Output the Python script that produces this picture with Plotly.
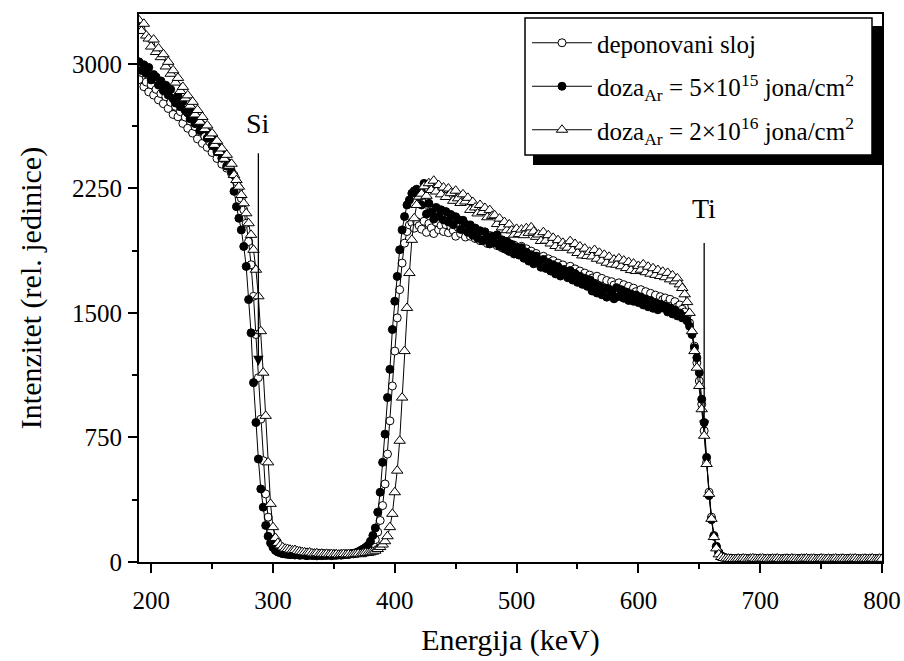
import plotly.graph_objects as go

# ---------------- data ----------------
# channel energies, keV (2 keV grid 190 ... 800)
energy = list(range(190, 801, 2))

# --- "deponovani sloj" (open circles) ---
dep_si_plateau = [2905, 2948, 2862, 2890, 2831, 2874, 2812, 2846, 2783, 2820,
                  2760, 2802, 2731, 2768, 2695, 2744, 2681, 2712, 2641, 2679,
                  2612, 2655, 2583, 2622, 2548, 2590, 2521, 2562, 2497, 2531,
                  2466, 2502, 2430, 2471, 2396, 2437, 2372, 2402, 2338, 2330,
                  2290]
dep_si_edge = [2250, 2190, 2120, 2040, 1930, 1790, 1600, 1370, 1110, 860,
               610, 410, 270, 180, 125, 100, 85, 78, 72, 68]
dep_valley = [66, 63, 65, 60, 62, 58, 56, 58, 54, 55,
              52, 53, 50, 52, 49, 51, 48, 50, 47, 49,
              48, 46, 49, 47, 50, 48, 50, 49, 52, 54,
              56, 60, 64]
dep_ti_rise = [70, 85, 105, 135, 180, 250, 340, 470, 650, 850,
               1060, 1270, 1470, 1640, 1800, 1920, 1990, 2030, 2045, 2010,
               2050, 2025]
dep_ti_plateau = [2004, 2052, 1985, 2038, 2012, 1978, 2046, 2001, 2027, 1990,
                  2031, 1983, 2019, 1996, 1962, 2015, 1978, 2002, 1957, 1990,
                  1962, 2001, 1948, 1980, 1935, 1972, 1941, 1918, 1966, 1930,
                  1952, 1905, 1938, 1892, 1926, 1880, 1918, 1871, 1908, 1884,
                  1862, 1901, 1848, 1886, 1831, 1872, 1820, 1858, 1835, 1806,
                  1841, 1794, 1826, 1780, 1815, 1768, 1800, 1757, 1789, 1762,
                  1738, 1781, 1726, 1765, 1713, 1752, 1703, 1740, 1695, 1728,
                  1710, 1684, 1721, 1670, 1708, 1659, 1695, 1650, 1688, 1668,
                  1642, 1681, 1633, 1670, 1622, 1660, 1615, 1649, 1628, 1602,
                  1640, 1596, 1628, 1585, 1618, 1574, 1607, 1566, 1598, 1580,
                  1590, 1556, 1582, 1545, 1568, 1537, 1548, 1522, 1505, 1482]
dep_ti_edge = [1440, 1380, 1300, 1200, 1090, 950, 790, 600, 420, 270,
               160, 95, 55, 36, 27, 23, 21, 20, 19, 19]
dep_tail = [19, 21, 18, 20, 22, 19, 18, 21, 20, 17,
            19, 20, 18, 21, 19, 17, 20, 18, 19, 21,
            18, 20, 19, 17, 19, 21, 18, 19, 20, 17,
            19, 18, 20, 19, 21, 18, 17, 19, 20, 18,
            19, 17, 20, 18, 19, 21, 18, 17, 19, 20,
            18, 19, 17, 20, 18, 19, 21, 18, 19, 20]

# --- doza Ar = 5x10^15 (filled circles) ---
d15_si_plateau = [3012, 2960, 2994, 2941, 2978, 2903, 2935, 2921, 2872, 2897,
                  2838, 2871, 2812, 2846, 2790, 2764, 2809, 2741, 2772, 2718,
                  2704, 2669, 2721, 2640, 2672, 2598, 2630, 2611, 2552, 2584,
                  2508, 2539, 2470, 2492, 2431, 2449, 2384, 2402, 2350, 2232,
                  2140]
d15_si_edge = [2070, 2000, 1900, 1780, 1580, 1380, 1080, 840, 620, 440,
               330, 220, 155, 115, 88, 70, 60, 55, 50, 48]
d15_valley = [46, 44, 47, 42, 45, 40, 43, 41, 38, 42,
              39, 40, 37, 41, 38, 40, 39, 42, 38, 41,
              40, 43, 41, 44, 46, 45, 49, 52, 56, 62,
              70, 78, 88]
d15_ti_rise = [100, 125, 160, 205, 300, 420, 600, 770, 990, 1160,
               1400, 1570, 1720, 1880, 2000, 2080, 2150, 2180, 2220, 2235,
               2245, 2200]
d15_ti_plateau = [2150, 2280, 2095, 2160, 2108, 2065, 2135, 2082, 2121, 2060,
                  2110, 2048, 2093, 2031, 2079, 2062, 2003, 2058, 2035, 1985,
                  2030, 1968, 2011, 1950, 1995, 1934, 1988, 1960, 1915, 1962,
                  1921, 1970, 1902, 1940, 1886, 1931, 1870, 1912, 1855, 1895,
                  1848, 1893, 1829, 1866, 1812, 1850, 1796, 1842, 1808, 1775,
                  1822, 1768, 1803, 1752, 1790, 1735, 1778, 1722, 1760, 1738,
                  1712, 1755, 1698, 1737, 1684, 1721, 1672, 1708, 1660, 1699,
                  1632, 1677, 1620, 1661, 1609, 1650, 1595, 1642, 1614, 1585,
                  1652, 1599, 1640, 1588, 1626, 1575, 1614, 1570, 1608, 1562,
                  1596, 1548, 1584, 1537, 1575, 1528, 1560, 1519, 1552, 1530,
                  1542, 1506, 1530, 1494, 1518, 1482, 1500, 1470, 1478, 1452]
d15_ti_edge = [1420, 1370, 1290, 1230, 1140, 980, 840, 630, 400, 255,
               155, 92, 58, 38, 28, 24, 22, 21, 20, 19]
d15_tail = [18, 20, 17, 19, 21, 18, 17, 20, 19, 16,
            18, 19, 17, 20, 18, 16, 19, 17, 18, 20,
            17, 19, 18, 16, 18, 20, 17, 18, 19, 16,
            18, 17, 19, 18, 20, 17, 16, 18, 19, 17,
            18, 16, 19, 17, 18, 20, 17, 16, 18, 19,
            17, 18, 16, 19, 17, 18, 20, 17, 18, 19]

# --- doza Ar = 2x10^16 (open triangles) ---
d16_si_plateau = [3262, 3198, 3241, 3170, 3152, 3104, 3146, 3071, 3093, 3040,
                  3058, 2984, 3012, 2940, 2961, 2887, 2915, 2836, 2861, 2792,
                  2810, 2748, 2771, 2695, 2722, 2651, 2680, 2607, 2629, 2565,
                  2581, 2512, 2536, 2469, 2490, 2428, 2452, 2386, 2398, 2330,
                  2300]
d16_si_edge = [2260, 2210, 2160, 2100, 2040, 1970, 1880, 1760, 1600, 1390,
               1140, 880, 600, 350, 210, 145, 115, 100, 88, 80]
d16_valley = [78, 74, 70, 72, 66, 63, 60, 58, 55, 57,
              52, 50, 53, 48, 50, 47, 49, 46, 48, 45,
              47, 44, 46, 48, 45, 47, 44, 46, 48, 50,
              47, 52, 55]
d16_ti_rise = [55, 58, 62, 68, 78, 90, 105, 125, 155, 210,
               290, 420, 550, 730, 990, 1270, 1530, 1740, 1940, 2070,
               2150, 2200]
d16_ti_plateau = [2218, 2262, 2205, 2281, 2240, 2296, 2231, 2270, 2214, 2255,
                  2198, 2249, 2221, 2175, 2236, 2190, 2162, 2214, 2171, 2193,
                  2120, 2168, 2135, 2099, 2150, 2108, 2132, 2076, 2119, 2084,
                  2088, 2035, 2068, 2015, 2047, 1998, 2033, 1997, 1971, 2006,
                  1975, 2002, 1968, 2010, 1982, 2015, 1990, 1958, 1972, 1933,
                  1986, 1935, 1968, 1918, 1952, 1903, 1938, 1892, 1922, 1905,
                  1893, 1932, 1877, 1915, 1861, 1900, 1846, 1887, 1843, 1868,
                  1840, 1879, 1826, 1862, 1815, 1850, 1802, 1838, 1793, 1821,
                  1790, 1828, 1781, 1815, 1770, 1806, 1758, 1797, 1752, 1783,
                  1760, 1792, 1745, 1778, 1736, 1769, 1729, 1758, 1722, 1748,
                  1715, 1741, 1702, 1726, 1690, 1708, 1672, 1650, 1612, 1565]
d16_ti_edge = [1500, 1390, 1270, 1170, 1060, 920, 760, 590, 410, 260,
               150, 82, 46, 30, 24, 21, 20, 19, 18, 18]
d16_tail = [20, 18, 21, 19, 17, 20, 22, 19, 18, 20,
            21, 18, 19, 17, 20, 19, 21, 18, 17, 19,
            20, 18, 21, 19, 18, 17, 20, 19, 21, 18,
            19, 20, 17, 18, 21, 19, 18, 20, 17, 19,
            21, 18, 19, 20, 17, 18, 20, 19, 21, 18,
            17, 19, 20, 18, 19, 21, 17, 18, 20, 19]

series_names = [
    "deponovani sloj",
    "doza<sub>Ar</sub> = 5×10<sup>15</sup> jona/cm<sup>2</sup>",
    "doza<sub>Ar</sub> = 2×10<sup>16</sup> jona/cm<sup>2</sup>",
]

x_ticks = [200, 300, 400, 500, 600, 700, 800]
y_ticks = [0, 750, 1500, 2250, 3000]

# arrows: (label, energy, label level, arrow top, arrow tip)
markers_text = [("Si", 288, 2640, 2470, 1180), ("Ti", 654, 2130, 1930, 790)]

# ---------------- assemble ----------------
deponovani = (dep_si_plateau + dep_si_edge + dep_valley + dep_ti_rise +
              dep_ti_plateau + dep_ti_edge + dep_tail)
doza15 = (d15_si_plateau + d15_si_edge + d15_valley + d15_ti_rise +
          d15_ti_plateau + d15_ti_edge + d15_tail)
doza16 = (d16_si_plateau + d16_si_edge + d16_valley + d16_ti_rise +
          d16_ti_plateau + d16_ti_edge + d16_tail)
for s in (deponovani, doza15, doza16):
    assert len(s) == len(energy), (len(s), len(energy))

FONT = "Liberation Serif"
# the page body margin is removed in the page (see post_script), so the
# figure fills the 904x661 window exactly
W, H = 904, 661
PLOT_L, PLOT_R, PLOT_T, PLOT_B = 139, 882, 14, 562
ML, MT = PLOT_L, PLOT_T
MR, MB = W - PLOT_R, H - PLOT_B
PW, PH = PLOT_R - PLOT_L, PLOT_B - PLOT_T


def xp(px):
    return (px - PLOT_L) / PW


def yp(py):
    return 1 - (py - PLOT_T) / PH


fig = go.Figure()
styles = [
    dict(symbol="circle", size=8, color="white", line=dict(color="black", width=1)),
    dict(symbol="circle", size=8, color="black", line=dict(color="black", width=1)),
    dict(symbol="triangle-up", size=10, color="white", line=dict(color="black", width=1)),
]
for i, (vals, name, mk) in enumerate(zip([deponovani, doza15, doza16], series_names, styles)):
    fig.add_trace(go.Scatter(
        x=energy, y=vals, mode="lines+markers", name=name,
        legendgroup=f"g{i}",
        line=dict(color="black", width=1),
        marker=mk,
    ))

# legend frame with drop shadow
fig.add_shape(type="rect", xref="paper", yref="paper",
              x0=xp(533), x1=xp(882), y0=yp(165), y1=yp(26),
              fillcolor="black", line=dict(width=0), layer="above")
fig.add_shape(type="rect", xref="paper", yref="paper",
              x0=xp(525), x1=xp(872), y0=yp(155), y1=yp(18),
              fillcolor="white", line=dict(color="black", width=1.5), layer="above")

for label, e, ylab, ytop, ytip in markers_text:
    fig.add_annotation(x=e, y=ytip, ax=e, ay=ytop, axref="x", ayref="y",
                       xref="x", yref="y", text="", showarrow=True,
                       arrowhead=2, arrowsize=1.6, arrowwidth=1.3, arrowcolor="black")
    fig.add_annotation(x=e, y=ylab, xref="x", yref="y", text=label, showarrow=False,
                       font=dict(family=FONT, size=28, color="black"))

axis_common = dict(
    showline=True, linecolor="black", linewidth=2, mirror=True,
    ticks="outside", ticklen=9, tickwidth=2, tickcolor="black",
    showgrid=False, zeroline=False,
    tickfont=dict(family=FONT, size=25, color="black"),
)
fig.update_xaxes(range=[190, 800], tickvals=x_ticks, ticktext=[str(v) for v in x_ticks],
                 minor=dict(dtick=50, tick0=0, ticks="outside", ticklen=5, tickwidth=1.5,
                            tickcolor="black", showgrid=False),
                 title=dict(text="Energija (keV)", font=dict(family=FONT, size=30, color="black"),
                            standoff=16),
                 ticklabelstandoff=6,
                 **axis_common)
fig.update_yaxes(range=[0, 3300], tickvals=y_ticks, ticktext=[str(v) for v in y_ticks],
                 minor=dict(dtick=375, tick0=0, ticks="outside", ticklen=5, tickwidth=1.5,
                            tickcolor="black", showgrid=False),
                 title=dict(text="Intenzitet (rel. jedinice)",
                            font=dict(family=FONT, size=30, color="black"), standoff=22),
                 ticklabelstandoff=1,
                 **axis_common)

fig.update_layout(
    width=W, height=H,
    margin=dict(l=ML, r=MR, t=MT, b=MB, autoexpand=False),
    paper_bgcolor="white", plot_bgcolor="white",
    font=dict(family=FONT, size=24, color="black"),
    showlegend=True,
    legend=dict(x=xp(527), y=yp(20), xanchor="left", yanchor="top",
                bgcolor="rgba(0,0,0,0)", borderwidth=0,
                font=dict(family=FONT, size=25, color="black"),
                traceorder="grouped", tracegroupgap=8, itemwidth=60),
)

fig.write_html(
    "out.html",
    config={"displayModeBar": False},
    post_script="document.body.style.margin='0';document.body.style.overflow='hidden';",
)
